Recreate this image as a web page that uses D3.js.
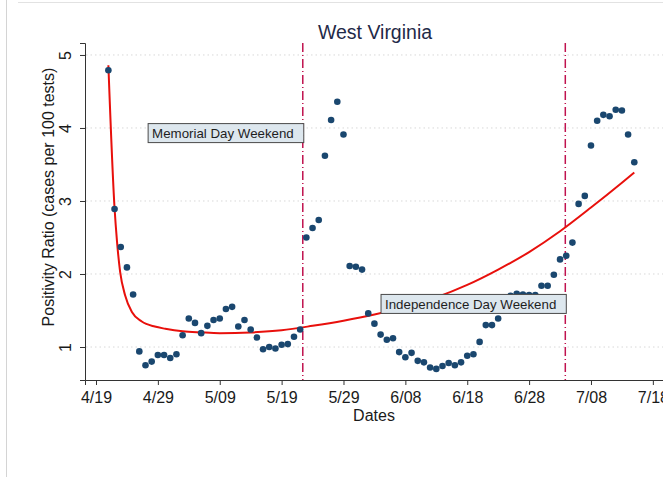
<!DOCTYPE html>
<html>
<head>
<meta charset="utf-8">
<script src="https://cdn.jsdelivr.net/npm/d3@7"></script>
<style>
  body { margin: 0; background: #fff; }
  svg { display: block; font-family: "Liberation Sans", Arial, sans-serif; }
</style>
</head>
<body>
<div id="chart"></div>
<script>
// days counted from 4/19
const tickDays = [0, 10, 20, 30, 40, 50, 60, 70, 80, 90];
const tickLabels = ["4/19", "4/29", "5/09", "5/19", "5/29", "6/08", "6/18", "6/28", "7/08", "7/18"];
const yTicks = [1, 2, 3, 4, 5];

// daily positivity ratio, first value is 4/21 (day 2)
const firstDay = 2;
const positivity = [
  4.79, 2.89, 2.37, 2.09, 1.72, 0.94, 0.75, 0.80, 0.89, 0.89,
  0.85, 0.90, 1.16, 1.39, 1.33, 1.19, 1.29, 1.37, 1.39, 1.52,
  1.55, 1.28, 1.37, 1.24, 1.13, 0.97, 1.00, 0.98, 1.03, 1.04,
  1.14, 1.24, 2.50, 2.63, 2.74, 3.62, 4.11, 4.36, 3.91, 2.11,
  2.10, 2.06, 1.46, 1.32, 1.17, 1.10, 1.12, 0.93, 0.86, 0.92,
  0.81, 0.79, 0.72, 0.70, 0.74, 0.78, 0.75, 0.79, 0.88, 0.90,
  1.07, 1.30, 1.30, 1.39, 1.64, 1.70, 1.73, 1.72, 1.71, 1.71,
  1.84, 1.84, 1.99, 2.20, 2.25, 2.43, 2.96, 3.07, 3.76, 4.10,
  4.18, 4.16, 4.25, 4.24, 3.91, 3.53
];

// fitted curve
const fitDays = [2, 3, 3.4, 3.9, 4.7, 5.8, 7.4, 9.5, 11.2, 14, 17, 20, 25, 30, 35, 40, 45, 50, 55, 60, 65, 70, 75, 80, 85, 87];
const fitValues = [4.86, 2.90, 2.44, 2.03, 1.71, 1.48, 1.35, 1.28, 1.25, 1.215, 1.20, 1.19, 1.20, 1.23, 1.29, 1.36, 1.445, 1.55, 1.68, 1.85, 2.06, 2.30, 2.585, 2.91, 3.25, 3.39];

const eventDays = [33.42, 75.85];
const eventLabels = ["Memorial Day Weekend", "Independence Day Weekend"];
const eventLabelY = [3.93, 1.59];

const W = 663, H = 477;
const svg = d3.select("#chart").append("svg").attr("width", W).attr("height", H);

// screenshot frame
svg.append("line").attr("x1", 6.5).attr("x2", 6.5).attr("y1", 0).attr("y2", H)
  .attr("stroke", "#d4d4d4");
svg.append("line").attr("x1", 18).attr("x2", W).attr("y1", 2.5).attr("y2", 2.5)
  .attr("stroke", "#e2e2e2");

const x = d3.scaleLinear().domain([-1.778, 91.64]).range([85, 663]);
const y = d3.scaleLinear().domain([0.548, 5.164]).range([380, 43]);

// grid
svg.append("g")
  .selectAll("line")
  .data(yTicks)
  .enter()
  .append("line")
  .attr("x1", 86)
  .attr("x2", W)
  .attr("y1", (d) => y(d))
  .attr("y2", (d) => y(d))
  .attr("stroke", "#d8d8d8")
  .attr("stroke-dasharray", "1.5,3");

// event lines
svg.append("g")
  .selectAll("line")
  .data(eventDays)
  .enter()
  .append("line")
  .attr("x1", (d) => x(d))
  .attr("x2", (d) => x(d))
  .attr("y1", 43)
  .attr("y2", 380)
  .attr("stroke", "#c0134f")
  .attr("stroke-width", 1.5)
  .attr("stroke-dasharray", "9,3,1,3");

// fitted line
const fit = fitDays.map((d, i) => ({ day: d, value: fitValues[i] }));
svg.append("path")
  .datum(fit)
  .attr("fill", "none")
  .attr("stroke", "#e8100c")
  .attr("stroke-width", 2)
  .attr("d", d3.line().x((d) => x(d.day)).y((d) => y(d.value)).curve(d3.curveMonotoneX));

// points
const points = positivity.map((v, i) => ({ day: firstDay + i, value: v }));
svg.append("g")
  .selectAll("circle")
  .data(points)
  .enter()
  .append("circle")
  .attr("cx", (d) => x(d.day))
  .attr("cy", (d) => y(d.value))
  .attr("r", 3.3)
  .attr("fill", "#1a476f");

// labels for the events
eventDays.forEach((d, i) => {
  const g = svg.append("g");
  const lx = x(d);
  const ly = y(eventLabelY[i]);
  const rect = g.append("rect");
  const t = g.append("text")
    .attr("x", lx - 9)
    .attr("y", ly + 4.7)
    .attr("text-anchor", "end")
    .attr("font-size", "13.3px")
    .attr("fill", "#1e1e1e")
    .text(eventLabels[i]);
  const w = t.node().getComputedTextLength();
  rect.attr("x", lx - 9 - w - 4)
    .attr("y", ly - 9.5)
    .attr("width", w + 14)
    .attr("height", 19)
    .attr("fill", "#dde7ee")
    .attr("stroke", "#4a4a4a")
    .attr("stroke-width", 1);
});

// x axis
const xAxis = svg.append("g")
  .attr("transform", "translate(0,380)")
  .call(d3.axisBottom(x).tickValues(tickDays).tickFormat((d, i) => tickLabels[i]).tickSizeOuter(0).tickSize(5));
xAxis.select(".domain").attr("stroke", "#333");
xAxis.selectAll(".tick line").attr("stroke", "#333");
xAxis.selectAll("text").attr("font-size", "16px").attr("fill", "#1a1a1a")
  .attr("font-family", "Liberation Sans, Arial, sans-serif").attr("dy", "0.95em");

// y axis
const yAxis = svg.append("g")
  .attr("transform", "translate(85,0)")
  .call(d3.axisLeft(y).tickValues(yTicks).tickFormat(d3.format("d")).tickSizeOuter(0).tickSize(5));
yAxis.select(".domain").attr("stroke", "#333");
yAxis.selectAll(".tick line").attr("stroke", "#333");
yAxis.selectAll("text")
  .attr("font-size", "16px")
  .attr("fill", "#1a1a1a")
  .attr("font-family", "Liberation Sans, Arial, sans-serif")
  .attr("text-anchor", "middle")
  .attr("x", null)
  .attr("dy", null)
  .attr("transform", "translate(-14,0) rotate(-90)");

// titles
svg.append("text")
  .attr("x", 375)
  .attr("y", 39)
  .attr("text-anchor", "middle")
  .attr("font-size", "19.5px")
  .attr("fill", "#1f2a48")
  .text("West Virginia");

svg.append("text")
  .attr("x", 374)
  .attr("y", 421)
  .attr("text-anchor", "middle")
  .attr("font-size", "16px")
  .attr("fill", "#1a1a1a")
  .text("Dates");

svg.append("text")
  .attr("transform", "translate(54,197) rotate(-90)")
  .attr("text-anchor", "middle")
  .attr("font-size", "16px")
  .attr("fill", "#1a1a1a")
  .text("Positivity Ratio (cases per 100 tests)");
</script>
</body>
</html>
